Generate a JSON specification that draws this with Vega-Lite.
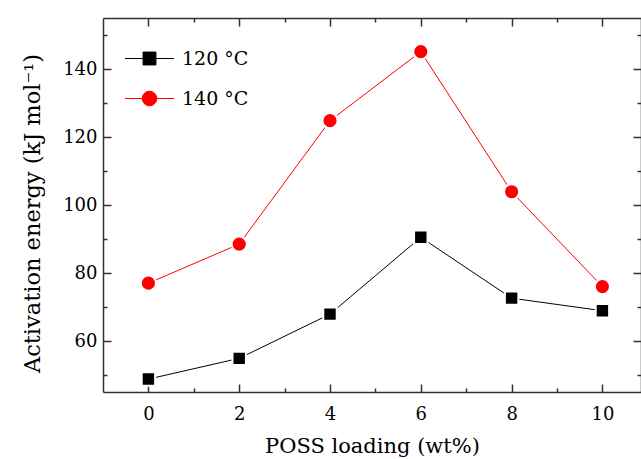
{
  "$schema": "https://vega.github.io/schema/vega-lite/v6.json",
  "width": 538,
  "height": 374,
  "autosize": {"type": "none"},
  "padding": {"left": 103, "top": 18, "right": 0, "bottom": 67},
  "config": {
    "view": {"stroke": null},
    "font": "DejaVu Serif",
    "axis": {
      "domainColor": "#333333",
      "domainWidth": 1.5,
      "tickColor": "#333333",
      "tickWidth": 1.5,
      "grid": false,
      "labelFont": "DejaVu Serif",
      "labelFontSize": 18,
      "labelColor": "#000000",
      "titleFont": "DejaVu Serif",
      "titleFontSize": 21,
      "titleFontWeight": "normal",
      "titleColor": "#000000"
    },
    "legend": {
      "labelFont": "DejaVu Serif",
      "labelFontSize": 19,
      "labelColor": "#000000"
    }
  },
  "data": {
    "values": [
      {"loading": 0, "energy": 48.8, "series": "120 °C"},
      {"loading": 2, "energy": 54.9, "series": "120 °C"},
      {"loading": 4, "energy": 67.9, "series": "120 °C"},
      {"loading": 6, "energy": 90.5, "series": "120 °C"},
      {"loading": 8, "energy": 72.6, "series": "120 °C"},
      {"loading": 10, "energy": 68.9, "series": "120 °C"},
      {"loading": 0, "energy": 77.0, "series": "140 °C"},
      {"loading": 2, "energy": 88.5, "series": "140 °C"},
      {"loading": 4, "energy": 124.8, "series": "140 °C"},
      {"loading": 6, "energy": 145.1, "series": "140 °C"},
      {"loading": 8, "energy": 103.9, "series": "140 °C"},
      {"loading": 10, "energy": 76.0, "series": "140 °C"}
    ]
  },
  "layer": [
    {
      "mark": {"type": "point", "filled": true, "opacity": 1, "size": 0, "strokeWidth": 0},
      "encoding": {
        "x": {"field": "loading", "type": "quantitative", "scale": {"domain": [-1, 10.85], "nice": false, "zero": false}, "axis": null},
        "y": {"field": "energy", "type": "quantitative", "scale": {"domain": [45, 155], "nice": false, "zero": false}, "axis": null},
        "fill": {
          "field": "series", "type": "nominal",
          "scale": {"domain": ["120 °C", "140 °C"], "range": ["#000000", "#ff0000"]},
          "legend": {
            "title": null, "orient": "none", "legendX": 37, "legendY": 31,
            "rowPadding": 20, "symbolSize": 196, "symbolOpacity": 1, "symbolStrokeWidth": 1, "labelOffset": 23
          }
        },
        "stroke": {
          "field": "series", "type": "nominal",
          "scale": {"domain": ["120 °C", "140 °C"], "range": ["#000000", "#ff0000"]},
          "legend": {
            "title": null, "orient": "none", "legendX": 37, "legendY": 31,
            "rowPadding": 20, "symbolSize": 196, "symbolOpacity": 1, "symbolStrokeWidth": 1, "labelOffset": 23
          }
        },
        "shape": {
          "field": "series", "type": "nominal",
          "scale": {"domain": ["120 °C", "140 °C"], "range": ["M-3.5,0H3.5M-0.92,-0.92H0.92V0.92H-0.92Z", "M-3.5,0H3.5M1.04,0A1.04,1.04 0 1,1 -1.04,0A1.04,1.04 0 1,1 1.04,0Z"]},
          "legend": {
            "title": null, "orient": "none", "legendX": 37, "legendY": 31,
            "rowPadding": 20, "symbolSize": 196, "symbolOpacity": 1, "symbolStrokeWidth": 1, "labelOffset": 23
          }
        }
      }
    },
    {
      "mark": {"type": "line", "strokeWidth": 1},
      "encoding": {
        "x": {
          "field": "loading", "type": "quantitative",
          "axis": {
            "orient": "bottom",
            "title": "POSS loading (wt%)",
            "values": [0, 1, 2, 3, 4, 5, 6, 7, 8, 9, 10],
            "labelExpr": "datum.value % 2 == 0 ? datum.label : ''",
            "tickSize": {"expr": "datum.value % 2 == 0 ? -8 : -4"},
            "labelPadding": 21,
            "titlePadding": 12
          }
        },
        "y": {
          "field": "energy", "type": "quantitative",
          "axis": {
            "orient": "left",
            "title": "Activation energy (kJ  mol⁻¹)",
            "titleFontSize": 22.5,
            "titleY": 195,
            "values": [50, 60, 70, 80, 90, 100, 110, 120, 130, 140, 150],
            "labelExpr": "datum.value % 20 == 0 ? datum.label : ''",
            "tickSize": {"expr": "datum.value % 20 == 0 ? -8 : -4"},
            "labelPadding": 14,
            "titlePadding": 18
          }
        },
        "color": {
          "field": "series", "type": "nominal",
          "scale": {"domain": ["120 °C", "140 °C"], "range": ["#000000", "#ff0000"]},
          "legend": null
        }
      }
    },
    {
      "transform": [{"filter": "datum.series == '120 °C'"}],
      "mark": {"type": "point", "shape": "square", "size": 180, "filled": true, "opacity": 1, "color": "#000000", "stroke": "#ffffff", "strokeWidth": 2},
      "encoding": {
        "x": {
          "field": "loading", "type": "quantitative",
          "axis": {
            "orient": "top",
            "title": null,
            "values": [0, 1, 2, 3, 4, 5, 6, 7, 8, 9, 10],
            "labels": false,
            "tickSize": {"expr": "datum.value % 2 == 0 ? -8 : -4"}
          }
        },
        "y": {
          "field": "energy", "type": "quantitative",
          "axis": {
            "orient": "right",
            "title": null,
            "values": [50, 60, 70, 80, 90, 100, 110, 120, 130, 140, 150],
            "labels": false,
            "tickSize": {"expr": "datum.value % 20 == 0 ? -8 : -4"}
          }
        }
      }
    },
    {
      "transform": [{"filter": "datum.series == '140 °C'"}],
      "mark": {"type": "point", "shape": "circle", "size": 230, "filled": true, "opacity": 1, "color": "#ff0000", "stroke": "#ffffff", "strokeWidth": 2},
      "encoding": {
        "x": {"field": "loading", "type": "quantitative", "axis": null},
        "y": {"field": "energy", "type": "quantitative", "axis": null}
      }
    }
  ],
  "resolve": {"axis": {"x": "independent", "y": "independent"}}
}
